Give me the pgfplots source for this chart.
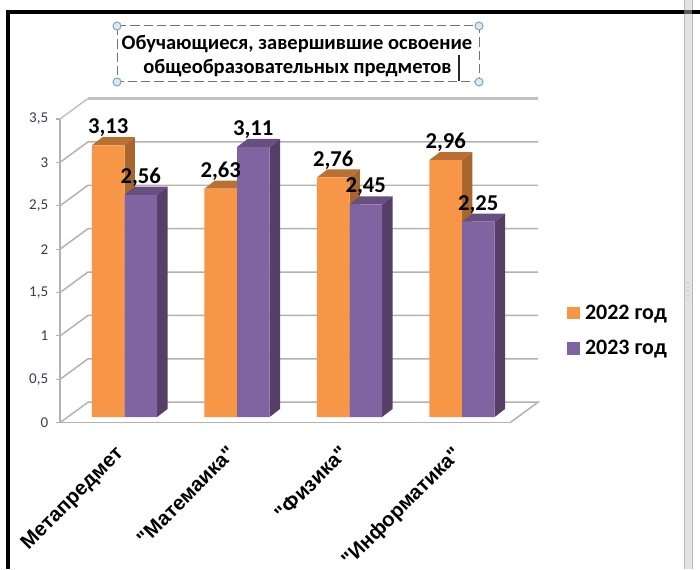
\documentclass[border=0pt]{standalone}
\usepackage{fontspec}
\setmainfont{Carlito}
\setsansfont{Liberation Sans}[Ligatures=TeXOff]
\usepackage{pgfplots}
\usepackage{pgfplotstable}
\pgfplotsset{compat=1.18}

\definecolor{orangefront}{HTML}{F79646}
\definecolor{orangeside}{HTML}{A9652E}
\definecolor{orangetop}{HTML}{BA7032}
\definecolor{purplefront}{HTML}{8064A2}
\definecolor{purpleside}{HTML}{553F69}
\definecolor{purpletop}{HTML}{65507F}
\definecolor{gridc}{HTML}{B2B2B2}
\definecolor{handle}{HTML}{7FA9C4}
\definecolor{tickc}{HTML}{3A3A50}

% x y: category index, 2022, 2023
\pgfplotstableread{
x  a     b
0  3.13  2.56
1  2.63  3.11
2  2.76  2.45
3  2.96  2.25
}\marks

% side and top faces of one bar: left edge, value, side colour, top colour
\newcommand\barfaces[4]{%
  \pgfmathsetmacro\xr{#1+0.29}%
  \pgfmathsetmacro\xd{#1+0.29+0.093}%
  \pgfmathsetmacro\xl{#1+0.093}%
  \pgfmathsetmacro\yd{#2+0.093}%
  \addplot[fill=#3,draw=none,forget plot] coordinates {(\xr,0) (\xd,0.093) (\xd,\yd) (\xr,#2)} --cycle;
  \addplot[fill=#4,draw=none,forget plot] coordinates {(#1,#2) (\xl,\yd) (\xd,\yd) (\xr,#2)} --cycle;
}

\pgfplotsset{
  squarelegend/.style={legend image code/.code={\fill[##1,draw=none] (0pt,-4.7pt) rectangle (9.75pt,4.7pt);}},
  valuelabels/.style={only marks,mark=*,mark size=0pt,draw=none,fill=none,forget plot,
    nodes near coords,
    every node near coord/.append style={font=\fontsize{17}{19}\selectfont\bfseries,black,anchor=center,inner sep=0pt,
      xshift=#1,yshift=13pt,
      /pgf/number format/.cd,fixed,fixed zerofill,precision=2,use comma,assume math mode=true}},
}

\begin{document}
\begin{tikzpicture}
\path[use as bounding box] (0,0) rectangle (525pt,426.75pt);

% window frame, scroll bar and the title being edited (1 px = 0.75pt)
\begin{scope}[x=0.75pt,y=-0.75pt,yshift=426.75pt]
  \fill[white] (0,0) rectangle (700,569);
  \fill[gray!22] (684,0) rectangle (692,569);
  \draw[gray!55,line width=0.5pt] (684,0) -- (684,569) (692,0) -- (692,569);
  \fill[black] (6,10) rectangle (700,14);
  \fill[gray!70!black] (684,10) rectangle (692,14);
  \fill[black] (6,10) rectangle (10,569);
  \foreach \yy in {283,287,291,295,299}
    \fill[gray!70] (688,\yy) circle (0.6);
  \draw[gray!90!black,line width=0.75pt,dash pattern=on 7pt off 3pt] (117,26) rectangle (479,82);
  \foreach \cx/\cy in {117/26,479/26,117/82,479/82}
    \draw[handle,fill=handle!25,line width=0.8pt] (\cx,\cy) circle (4);
  \node[font=\fontsize{15.4}{17}\selectfont\bfseries,inner sep=0pt] at (297,44.5) {Обучающиеся, завершившие освоение};
  \node[font=\fontsize{15.4}{17}\selectfont\bfseries,inner sep=0pt] at (297.5,68) {общеобразовательных предметов};
  \draw[black!85,line width=1.5pt] (458.5,55) -- (458.5,81);
\end{scope}

% front axis with ticks and the back wall
\begin{axis}[
    at={(45pt,109.7pt)},anchor=south west,
    scale only axis,width=337.5pt,height=227.8pt,
    xmin=0,xmax=4,ymin=0,ymax=3.5,
    clip=false,
    axis y line*=left,axis x line*=bottom,
    axis line style={gridc,line width=1.1pt},
    ytick={0,0.5,1,1.5,2,2.5,3,3.5},
    xtick={0.5,1.5,2.5,3.5},
    minor xtick={0,1,2,3,4},
    xticklabels={Метапредмет,"Матемаика","Физика","Информатика"},
    tick align=outside,
    major tick length=3.2pt,minor tick length=6pt,
    xtick style={draw=none},
    ytick style={gridc,line width=0.8pt},
    minor x tick style={gridc,line width=0.8pt},
    yticklabel style={font=\fontsize{11.25}{13}\selectfont,text=tickc,inner sep=0pt,xshift=-5.5pt,
      /pgf/number format/use comma,/pgf/number format/assume math mode=true},
    xticklabel style={font=\sffamily\bfseries\fontsize{15.3}{18}\selectfont,rotate=45,anchor=north east,
      inner sep=0pt,xshift=-10.5pt,yshift=-8.1pt},
  ]
  \pgfplotsinvokeforeach{0.5,1,1.5,2,2.5,3}{
    \draw[gridc,line width=1.1pt] (axis cs:0,#1) -- ++(21pt,15.4pt) -- ++(337.5pt,0pt);
  }
  \draw[gridc!80,line width=1.6pt] (axis cs:0,3.5) ++(21pt,15.4pt) -- ++(337.5pt,0pt);
  \draw[gridc!80,line width=1.1pt] (axis cs:0,3.5) -- ++(21pt,15.4pt);
  \draw[gridc,line width=1.1pt] (axis cs:0,0) -- ++(21pt,15.4pt) -- ++(337.5pt,0pt) -- (axis cs:4,0);
\end{axis}

% bars
\begin{axis}[
    at={(51.19pt,114pt)},anchor=south west,
    scale only axis,width=337.5pt,height=227.85pt,
    xmin=-0.5,xmax=3.5,ymin=0,ymax=3.5,
    clip=false,hide axis,
    legend style={at={(1.107,0.284)},anchor=west,draw=none,fill=none,
      font=\fontsize{16.5}{18}\selectfont\bfseries,inner sep=0pt,
      row sep=10.5pt,/tikz/every even column/.append style={column sep=7pt}},
    legend cell align=left,
  ]
  \barfaces{-0.29}{3.13}{orangeside}{orangetop}
  \barfaces{0.71}{2.63}{orangeside}{orangetop}
  \barfaces{1.71}{2.76}{orangeside}{orangetop}
  \barfaces{2.71}{2.96}{orangeside}{orangetop}
  \barfaces{0}{2.56}{purpleside}{purpletop}
  \barfaces{1}{3.11}{purpleside}{purpletop}
  \barfaces{2}{2.45}{purpleside}{purpletop}
  \barfaces{3}{2.25}{purpleside}{purpletop}

  \addplot[ybar,bar width=0.29,bar shift=-0.145,fill=orangefront,draw=none,squarelegend] table[x=x,y=a] {\marks};
  \addlegendentry{\hspace*{2pt}2022 год}
  \addplot[ybar,bar width=0.29,bar shift=0.145,fill=purplefront,draw=none,squarelegend] table[x=x,y=b] {\marks};
  \addlegendentry{\hspace*{2pt}2023 год}

  \addplot[valuelabels=-12.2pt] table[x=x,y=a] {\marks};
  \addplot[valuelabels=12.2pt] table[x=x,y=b] {\marks};
\end{axis}
\end{tikzpicture}
\end{document}
